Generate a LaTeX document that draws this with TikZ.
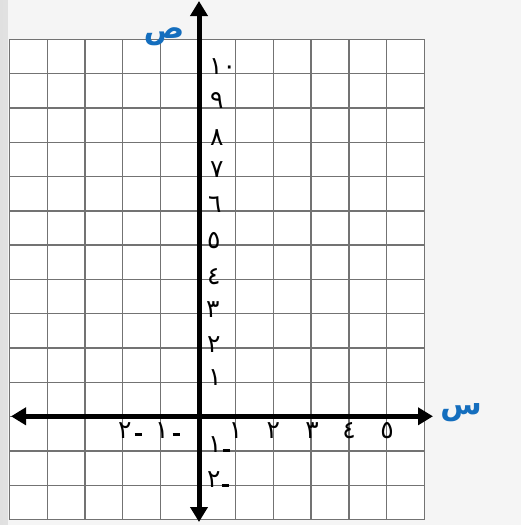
\documentclass[tikz,border=0pt]{standalone}
\usepackage{fontspec}
\usetikzlibrary{arrows.meta}
\newfontfamily\ar[Script=Arabic]{DejaVu Sans}
\definecolor{axblue}{RGB}{20,110,190}
\tikzset{
  gridline/.style={draw=black!55, line width=1.4pt},
  axisline/.style={line width=5pt, -{Triangle[length=15pt,width=17pt]}},
  ynum/.style={anchor=base west, inner sep=0pt, font=\ar\fontsize{25}{26}\selectfont},
  xnum/.style={anchor=base, inner sep=0pt, font=\ar\fontsize{25}{26}\selectfont},
  axlabel/.style={inner sep=0pt, text=axblue, font=\ar\bfseries\fontsize{30}{32}\selectfont}
}
\newcommand{\negdash}[1]{\rule[#1]{7pt}{2.8pt}}
\begin{document}
\begin{tikzpicture}[x=1pt,y=-1pt]
\useasboundingbox (0,0) rectangle (521,525);
\shade[left color=black!12, right color=black!3] (0,0) rectangle (521,525);
\fill[black!4] (8,0) rectangle (521,525);
\fill[white] (9.5,39.3) rectangle (424,519.5);
\foreach \i in {0,...,11} {
  \draw[gridline] ({9.5+\i*37.7},39.3) -- ({9.5+\i*37.7},519.5);
}
\foreach \j in {0,...,14} {
  \draw[gridline] (9.5,{39.3+\j*34.3}) -- (424,{39.3+\j*34.3});
}
% axes
\coordinate (ytop) at (199,1);
\coordinate (ybot) at (199,522);
\coordinate (xleft) at (11,416.3);
\coordinate (xright) at (433,416.3);
\coordinate (origin) at (199,416.3);
\draw[axisline] (origin) -- (xright);
\draw[axisline] (origin) -- (xleft);
\draw[axisline] (origin) -- (ytop);
\draw[axisline] (origin) -- (ybot);
% y labels
\node[ynum] (y10) at (209,74) {١٠};
\node[ynum] (y9) at (210,108) {٩};
\node[ynum] (y8) at (210,145) {٨};
\node[ynum] (y7) at (210,177) {٧};
\node[ynum] (y6) at (208,212) {٦};
\node[ynum] (y5) at (207,248) {٥};
\node[ynum] (y4) at (207,284) {٤};
\node[ynum] (y3) at (206,317) {٣};
\node[ynum] (y2) at (207,352) {٢};
\node[ynum] (y1) at (208,385) {١};
\node[ynum] (ym1) at (208,452) {١\kern1pt\negdash{0pt}};
\node[ynum] (ym2) at (207,487) {٢\kern1pt\negdash{0pt}};
% x labels
\node[xnum] (x1) at (235.7,438) {١};
\node[xnum] (x2) at (273.4,438) {٢};
\node[xnum] (x3) at (312,438) {٣};
\node[xnum] (x4) at (349,438) {٤};
\node[xnum] (x5) at (387,438) {٥};
\node[xnum, anchor=base west] (xm1) at (155,438) {١\kern4pt\negdash{2pt}};
\node[xnum, anchor=base west] (xm2) at (118,438) {٢\kern3pt\negdash{2pt}};
% axis names
\node[axlabel] (sad) at (164,37) {ص};
\node[axlabel] (seen) at (461,413) {س};
\end{tikzpicture}
\end{document}
